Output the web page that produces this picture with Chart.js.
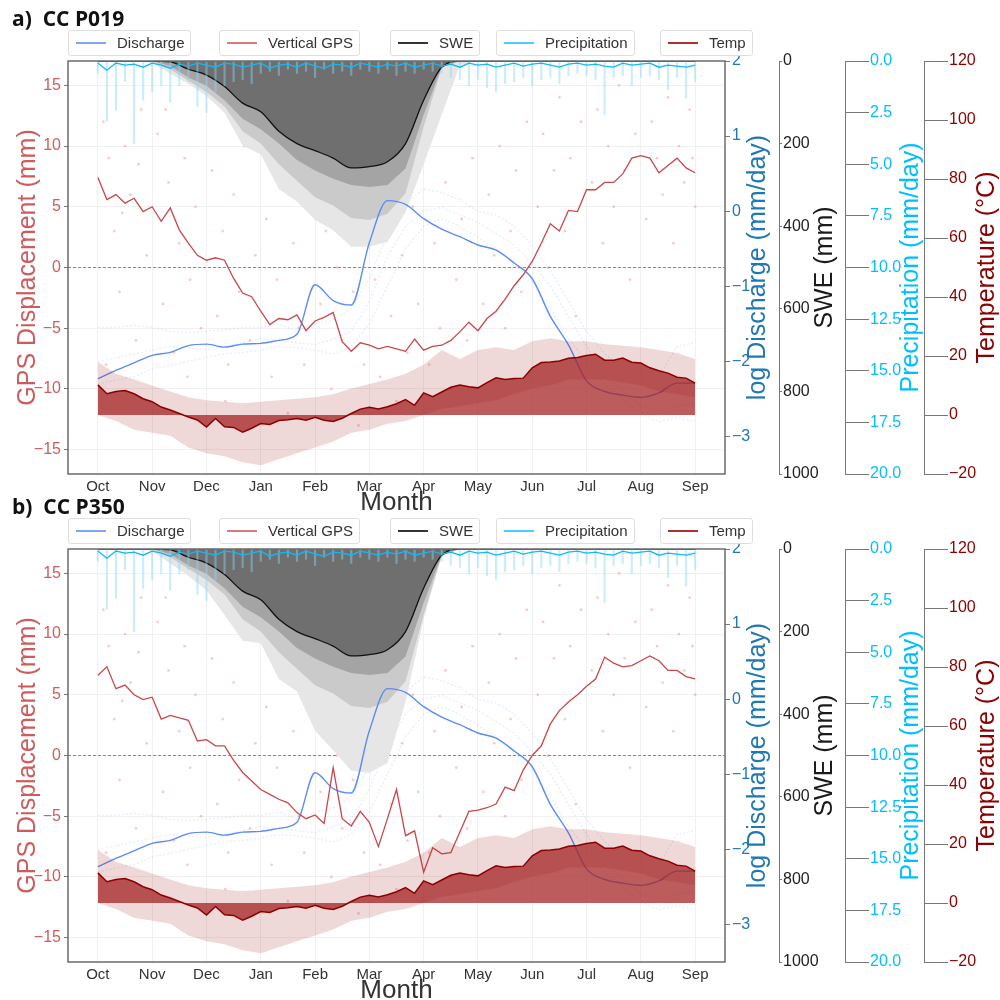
<!DOCTYPE html>
<html>
<head>
<meta charset="utf-8">
<script src="https://cdn.jsdelivr.net/npm/chart.js@4.4.1/dist/chart.umd.min.js"></script>
<style>
body { margin:0; width:1000px; height:1000px; overflow:hidden; background:#fff; position:relative; font-family:"Liberation Sans", Arial, sans-serif; }
.panel { position:absolute; left:0; width:1000px; height:515px; }
.panel canvas { position:absolute; left:0; top:0; }
.ptitle { position:absolute; left:12px; top:4px; font-family:"Open Sans", sans-serif; font-weight:700; font-size:21px; color:#111; white-space:pre; }
.lg { position:absolute; top:30px; height:24px; border:1px solid #dedede; border-radius:3px; background:#fff; font-size:15px; color:#333; }
.lg i { position:absolute; left:7px; top:11px; width:30px; height:1.5px; }
.lg span { position:absolute; left:48px; top:3px; }
</style>
</head>
<body>
<div class="panel" style="top:0px">
  <canvas id="chartA" width="1000" height="515"></canvas>
  <div class="ptitle">a)  CC P019</div>
  <div class="lg" style="left:68px;width:121px"><i style="background:#7fa6ee"></i><span>Discharge</span></div>
  <div class="lg" style="left:219px;width:139px"><i style="background:#d97a7c"></i><span>Vertical GPS</span></div>
  <div class="lg" style="left:390px;width:88px"><i style="background:#333"></i><span>SWE</span></div>
  <div class="lg" style="left:496px;width:137px"><i style="background:#4fcbff"></i><span>Precipitation</span></div>
  <div class="lg" style="left:660px;width:91px"><i style="background:#b03030"></i><span>Temp</span></div>
</div>
<div class="panel" style="top:488px">
  <canvas id="chartB" width="1000" height="515"></canvas>
  <div class="ptitle">b)  CC P350</div>
  <div class="lg" style="left:68px;width:121px"><i style="background:#7fa6ee"></i><span>Discharge</span></div>
  <div class="lg" style="left:219px;width:139px"><i style="background:#d97a7c"></i><span>Vertical GPS</span></div>
  <div class="lg" style="left:390px;width:88px"><i style="background:#333"></i><span>SWE</span></div>
  <div class="lg" style="left:496px;width:137px"><i style="background:#4fcbff"></i><span>Precipitation</span></div>
  <div class="lg" style="left:660px;width:91px"><i style="background:#b03030"></i><span>Temp</span></div>
</div>
<script>
// x is in months from 1 Oct; fine series every 1/6 month, coarse every 1/3 month
var monthLabels = ['Oct','Nov','Dec','Jan','Feb','Mar','Apr','May','Jun','Jul','Aug','Sep'];
var FINE = 1/6, COARSE = 1/3;

// vertical GPS (mm), fine
var gpsA = [7.4,5.6,6.0,5.3,5.7,4.6,5.0,3.8,4.9,3.1,2.0,1.0,0.6,0.8,0.6,-0.9,-2.1,-2.4,-3.6,-4.7,
  -4.2,-4.3,-3.9,-5.2,-4.4,-4.1,-3.7,-6.1,-6.9,-6.2,-6.4,-6.7,-6.5,-6.7,-6.9,-5.9,-6.8,-6.5,-6.4,-6.0,
  -5.3,-4.5,-5.2,-4.2,-3.6,-2.6,-1.5,-0.6,0.5,2.0,3.6,3.0,4.7,4.6,6.4,6.4,7.0,7.0,7.7,9.0,
  9.2,9.0,7.8,8.4,9.0,8.2,7.8];
var gpsB = [6.6,7.3,5.5,5.8,5.0,4.6,4.8,3.0,3.3,3.1,2.9,1.2,1.3,0.8,0.8,-0.4,-1.4,-2.1,-2.8,-3.2,
  -3.6,-3.9,-4.7,-5.2,-4.9,-5.6,-1.0,-5.2,-5.8,-4.6,-5.5,-7.5,-5.2,-2.8,-6.6,-6.2,-9.6,-7.6,-8.1,-8.0,
  -6.3,-4.6,-4.5,-4.3,-4.0,-2.6,-2.9,-1.2,0.0,0.8,2.6,3.7,4.4,5.0,5.7,6.3,8.1,7.6,7.3,7.4,
  7.8,8.2,7.8,7.0,7.0,6.5,6.3];

// daily GPS observations (faint dots), months / mm
var dotX = [0.1,0.2,0.3,0.4,0.5,0.6,0.7,0.8,0.9,0.15,0.45,0.75,
  1.1,1.2,1.3,1.4,1.5,1.6,1.7,1.8,1.9,1.25,1.65,
  2.1,2.2,2.3,2.4,2.5,2.6,2.7,2.8,2.9,2.35,
  3.1,3.2,3.3,3.4,3.5,3.6,3.7,3.8,3.9,
  4.1,4.2,4.3,4.4,4.5,4.6,4.7,4.8,4.9,
  5.1,5.2,5.3,5.4,5.5,5.6,5.7,5.8,5.9,
  6.1,6.2,6.3,6.4,6.5,6.6,6.7,6.8,6.9,
  7.1,7.2,7.3,7.4,7.5,7.6,7.7,7.8,7.9,
  8.1,8.2,8.3,8.4,8.5,8.6,8.7,8.8,8.9,
  9.1,9.2,9.3,9.4,9.5,9.6,9.7,9.8,9.9,
  10.1,10.2,10.3,10.4,10.5,10.6,10.7,10.8,10.9,11.0,10.95];
var dotY = [12,9,3,-2,10,6,-6,13,1,-8,4.5,8.5,
  11,-3,7,-7,2,9,-1,5,-5,13,-9,
  8,-4,3,-8,6,-2,10,-6,1,-11,
  4,-9,-1,7,-12,2,-5,-8,5,
  -3,3,-10,0,-6,6,-2,-13,-8,
  -1,-9,3,-4,-11,1,-7,5,-3,
  -8,2,-5,7,-10,-1,4,-6,9,
  -3,6,1,10,-5,3,8,-2,12,
  5,11,0,8,14,3,9,-4,12,
  7,13,2,10,5,15,8,-1,11,
  4,12,9,6,14,2,10,7,13,5,9];

// log discharge (mm/day), coarse
var discharge = [-2.23,-2.12,-2.02,-1.92,-1.88,-1.79,-1.77,-1.81,-1.77,-1.76,
  -1.72,-1.64,-0.98,-1.19,-1.25,-0.42,0.14,0.09,-0.10,-0.24,
  -0.34,-0.45,-0.52,-0.69,-0.90,-1.40,-1.78,-2.26,-2.40,-2.45,
  -2.48,-2.42,-2.29,-2.29];
var qYear1 = [-1.55,-1.55,-1.52,-1.55,-1.6,-1.62,-1.6,-1.58,-1.55,-1.55,-1.5,-1.6,-1.5,-1.45,-1.3,-0.9,-0.3,0.1,0.3,0.25,
  0.15,0.0,-0.05,-0.2,-0.45,-0.8,-1.2,-1.6,-1.9,-2.1,-2.3,-2.2,-1.8,-1.75];
var qYear2 = [-2.0,-1.95,-1.9,-1.85,-1.8,-1.82,-1.85,-1.8,-1.75,-1.7,-1.72,-1.75,-1.78,-1.7,-1.6,-1.2,-0.6,-0.2,0.0,0.05,
  -0.05,-0.15,-0.3,-0.45,-0.7,-1.0,-1.4,-1.8,-2.2,-2.4,-2.6,-2.65,-2.6,-2.55];
var qYear3 = [-2.3,-2.25,-2.2,-2.1,-2.05,-2.0,-1.95,-1.9,-1.88,-1.85,-1.8,-1.82,-1.85,-1.9,-1.8,-1.5,-1.0,-0.5,-0.2,-0.1,
  -0.2,-0.35,-0.5,-0.7,-0.95,-1.3,-1.7,-2.0,-2.3,-2.5,-2.7,-2.8,-2.75,-2.8];

// SWE (mm), coarse: median line and spread bands
var sweMed = [0,0,0,0,2,20,34,62,102,123,170,200,217,235,259,256,244,200,95,15,0,0,0,0,0,0,0,0,0,0,0,0,0,0];
var sweQ75 = [0,0,0,0,12,40,60,95,140,165,200,240,265,285,300,305,300,260,130,15,0,0,0,0,0,0,0,0,0,0,0,0,0,0];
var sweQ90 = [0,0,0,0,20,48,75,110,170,200,250,290,330,350,380,385,370,320,160,16,0,0,0,0,0,0,0,0,0,0,0,0,0,0];
var sweMaxA = [0,0,0,5,30,55,85,125,205,226,310,340,385,410,450,450,438,366,250,130,10,0,0,0,0,0,0,0,0,0,0,0,0,0];
var sweMaxB = [0,0,0,5,35,65,100,160,222,228,315,345,440,487,537,542,518,370,170,17,0,0,0,0,0,0,0,0,0,0,0,0,0,0];

// precipitation (mm/day), fine
var precipMean = [0.1,0.45,0.1,0.2,0.15,0.3,0.1,0.2,0.35,0.15,0.25,0.1,0.2,0.3,0.1,0.15,0.3,0.2,0.1,0.35,
  0.2,0.15,0.3,0.1,0.25,0.35,0.15,0.2,0.3,0.1,0.2,0.3,0.15,0.25,0.1,0.3,0.2,0.1,0.25,0.15,
  0.3,0.1,0.2,0.15,0.3,0.2,0.1,0.25,0.15,0.1,0.2,0.3,0.15,0.1,0.2,0.15,0.25,0.3,0.1,0.2,
  0.15,0.1,0.3,0.2,0.25,0.3,0.2];
var precipMax = [0.6,2.9,2.4,1.0,4.0,1.9,1.5,1.2,2.0,1.2,1.0,2.2,2.5,1.5,1.2,1.0,0.9,1.1,0.6,0.5,
  0.7,0.4,0.6,0.5,0.8,0.4,0.6,0.5,0.7,0.4,0.5,0.6,0.4,0.7,0.5,0.6,0.4,0.5,0.6,0.8,
  0.9,1.2,0.9,1.3,1.5,1.1,1.0,0.8,1.2,0.9,0.8,1.1,0.7,0.6,0.7,0.9,2.6,0.8,0.7,1.2,
  0.8,0.7,0.9,1.4,0.8,1.8,1.0];

// temperature (°C): mean fine, range coarse
var tempMean = [10.2,7.2,8.0,8.3,7.2,5.5,4.5,2.7,1.7,0.5,-0.7,-1.7,-4.1,-1.2,-4.0,-4.2,-5.8,-4.5,-2.9,-3.2,
  -1.9,-1.6,-1.2,-1.8,-0.8,-1.8,-2.2,-1.1,0.5,2.0,2.6,2.0,2.8,3.8,5.2,3.3,7.5,6.2,7.8,9.4,
  10.2,9.6,9.2,11.0,12.6,12.0,12.4,12.5,16.0,17.8,18.0,18.3,19.2,19.5,20.2,20.6,18.6,18.6,19.3,17.9,
  17.6,16.0,15.0,14.2,12.8,12.5,10.8];
var tempMax = [18,14,12,10,8,6,5,4.5,4,4.5,5,5.5,6,7,9,10.5,12,14,17,22,19,22,23,22,25,26,25,25,24,23.5,23,22,21,19];
var tempMin = [0,-2,-5,-6,-7,-11,-13,-14,-16,-17,-15,-13,-11,-9,-6,-5,-3,-2,0,2,3,4,5,7,9,10,12,12,12,11,10,8,7,6];

function pts(vals, step) {
  return vals.map(function (v, i) { return {x: i * step, y: v}; });
}
function minus(v) { return String(v).replace('-', '\u2212'); }

Chart.defaults.font.family = '"Liberation Sans", Arial, sans-serif';

var decor = {
  id: 'decor',
  beforeDatasetsDraw: function (chart) {
    var ctx = chart.ctx, a = chart.chartArea;
    var y0 = chart.scales.gps.getPixelForValue(0);
    ctx.save();
    ctx.strokeStyle = '#8a8a8a';
    ctx.lineWidth = 1;
    ctx.setLineDash([3, 2]);
    ctx.beginPath(); ctx.moveTo(a.left, y0); ctx.lineTo(a.right, y0); ctx.stroke();
    ctx.restore();
  },
  afterDraw: function (chart) {
    var ctx = chart.ctx, a = chart.chartArea, s = chart.scales;
    ctx.save();
    ctx.strokeStyle = '#6b6b6b';
    ctx.lineWidth = 1.5;
    ctx.strokeRect(a.left, a.top, a.right - a.left, a.bottom - a.top);
    var midY = (a.top + a.bottom) / 2;
    var titles = [
      [28, 'GPS Displacement (mm)', '#cd5c5c'],
      [s.q.left + 33, 'log Discharge (mm/day)', '#1f77b4'],
      [s.swe.left + 46, 'SWE (mm)', '#1a1a1a'],
      [s.pr.left + 66, 'Precipitation (mm/day)', '#00bfff'],
      [s.t.left + 63, 'Temperature (\u00b0C)', '#8b0000']
    ];
    ctx.font = '25px "Liberation Sans", Arial, sans-serif';
    ctx.textAlign = 'center';
    ctx.textBaseline = 'middle';
    titles.forEach(function (t) {
      ctx.save();
      ctx.translate(t[0], midY);
      ctx.rotate(-Math.PI / 2);
      ctx.fillStyle = t[2];
      ctx.fillText(t[1], 0, 0);
      ctx.restore();
    });
    ctx.fillStyle = '#333';
    ctx.font = '26px "Liberation Sans", Arial, sans-serif';
    ctx.fillText('Month', (a.left + a.right) / 2, a.bottom + 29);
    ctx.restore();
  }
};

function makeChart(id, gps, sweMax) {
  var dots = dotX.map(function (x, i) { return {x: x, y: dotY[i]}; });
  var line = {pointRadius: 0, tension: 0, fill: false};
  function L(extra) { return Object.assign({type: 'line'}, line, extra); }
  var qStyle = {yAxisID: 'q', borderColor: 'rgba(140,175,245,0.2)', borderWidth: 1.5, borderDash: [2, 2], order: 19};
  return new Chart(document.getElementById(id), {
    type: 'line',
    data: {
      datasets: [
        L({data: dots, yAxisID: 'gps', showLine: false, pointRadius: 1.4, pointBorderWidth: 0,
           pointBackgroundColor: 'rgba(225,110,110,0.35)', order: 20}),
        L(Object.assign({data: pts(qYear1, COARSE)}, qStyle)),
        L(Object.assign({data: pts(qYear2, COARSE)}, qStyle)),
        L(Object.assign({data: pts(qYear3, COARSE)}, qStyle)),
        L({data: pts(sweMax, COARSE), yAxisID: 'swe', borderWidth: 0, fill: {value: 0}, backgroundColor: '#e6e6e6', order: 18}),
        L({data: pts(sweQ90, COARSE), yAxisID: 'swe', borderWidth: 0, fill: {value: 0}, backgroundColor: '#cacaca', order: 17}),
        L({data: pts(sweQ75, COARSE), yAxisID: 'swe', borderWidth: 0, fill: {value: 0}, backgroundColor: '#a4a4a4', order: 16}),
        L({data: pts(sweMed, COARSE), yAxisID: 'swe', borderColor: '#111', borderWidth: 1.3, fill: {value: 0},
           backgroundColor: 'rgba(90,90,90,0.72)', cubicInterpolationMode: 'monotone', order: 15}),
        {type: 'bar', data: pts(precipMax, FINE), yAxisID: 'pr', backgroundColor: 'rgba(135,215,250,0.45)',
           barThickness: 1.5, order: 12},
        L({data: pts(precipMean, FINE), yAxisID: 'pr', borderColor: '#12b8f5', borderWidth: 1.3, order: 11}),
        L({data: pts(discharge, COARSE), yAxisID: 'q', borderColor: '#5b8def', borderWidth: 1.4,
           cubicInterpolationMode: 'monotone', order: 9}),
        L({data: pts(gps, FINE), yAxisID: 'gps', borderColor: '#c8474a', borderWidth: 1.3, order: 8}),
        L({data: pts(tempMax, COARSE), yAxisID: 't', borderWidth: 0, fill: '+1', backgroundColor: 'rgba(160,40,40,0.18)', order: 6}),
        L({data: pts(tempMin, COARSE), yAxisID: 't', borderWidth: 0, order: 5}),
        L({data: pts(tempMean, FINE), yAxisID: 't', borderColor: '#8b0000', borderWidth: 1.5, fill: {value: 0},
           backgroundColor: 'rgba(165,35,35,0.74)', order: 4})
      ]
    },
    options: {
      responsive: false,
      animation: false,
      events: [],
      layout: {padding: {top: 61, left: 0, right: 0, bottom: 0}},
      plugins: {legend: {display: false}, tooltip: {enabled: false}},
      scales: {
        x: {
          type: 'linear', min: -0.55, max: 11.55, offset: false,
          afterFit: function (s) { s.height = 41; },
          ticks: {stepSize: 1, includeBounds: false, autoSkip: false, maxRotation: 0, maxTicksLimit: 20,
                  color: '#333', font: {size: 15}, padding: 4,
                  callback: function (v) { return monthLabels[Math.round(v)]; }},
          grid: {color: '#f1f1f1', drawTicks: false, offset: false},
          border: {display: false}
        },
        gps: {
          position: 'left', min: -17, max: 17,
          afterFit: function (s) { s.width = 68; },
          ticks: {stepSize: 5, includeBounds: false, color: '#cd5c5c', font: {size: 16}, padding: 3, callback: minus},
          grid: {color: '#f1f1f1', tickColor: '#777', tickLength: 4},
          border: {display: false}
        },
        q: {
          position: 'right', weight: 1, min: -3.5, max: 2,
          afterFit: function (s) { s.width = 54; },
          ticks: {stepSize: 1, includeBounds: false, color: '#1f77b4', font: {size: 16}, padding: 2, callback: minus},
          grid: {drawOnChartArea: false, tickLength: 5, tickColor: '#777'},
          border: {display: false}
        },
        swe: {
          position: 'right', weight: 2, min: 0, max: 1000, reverse: true,
          afterFit: function (s) { s.width = 66; },
          ticks: {stepSize: 200, color: '#222', font: {size: 16}, padding: 1, callback: function (v) { return String(v); }},
          grid: {drawOnChartArea: false, tickLength: 3, tickColor: '#777'},
          border: {color: '#777'}
        },
        pr: {
          position: 'right', weight: 3, min: 0, max: 20, reverse: true,
          afterFit: function (s) { s.width = 79; },
          ticks: {stepSize: 2.5, color: '#00bfff', font: {size: 16}, padding: 1,
                  callback: function (v) { return v.toFixed(1); }},
          grid: {drawOnChartArea: false, tickLength: 24, tickColor: '#777'},
          border: {color: '#777'}
        },
        t: {
          position: 'right', weight: 4, min: -20, max: 120,
          afterFit: function (s) { s.width = 76; },
          ticks: {stepSize: 20, color: '#8b0000', font: {size: 16}, padding: 1, callback: minus},
          grid: {drawOnChartArea: false, tickLength: 24, tickColor: '#777'},
          border: {color: '#777'}
        }
      }
    },
    plugins: [decor]
  });
}

makeChart('chartA', gpsA, sweMaxA);
makeChart('chartB', gpsB, sweMaxB);
</script>
</body>
</html>
